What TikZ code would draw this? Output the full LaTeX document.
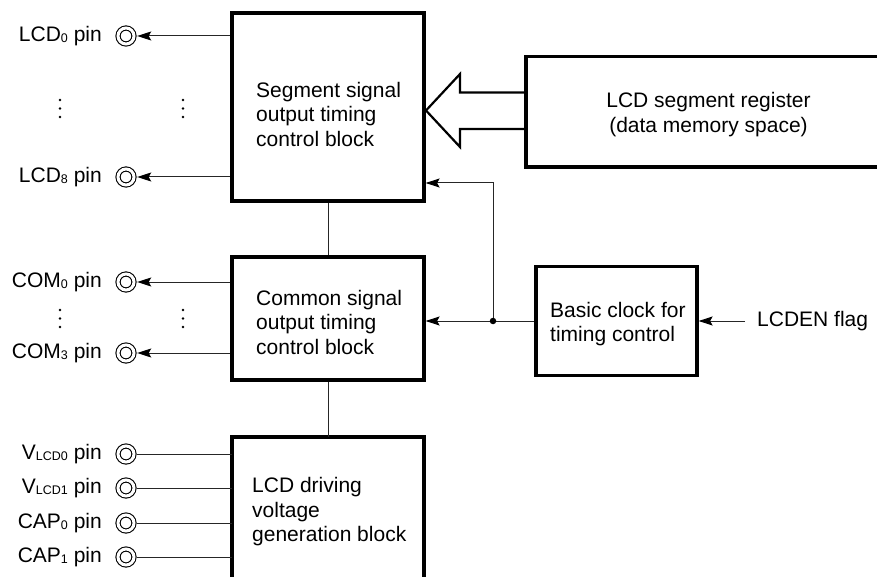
\documentclass[tikz,border=0pt]{standalone}
\usepackage{fontspec}
\setmainfont{Liberation Sans}
\usetikzlibrary{arrows.meta}
\newcommand{\lsub}[1]{\raisebox{-1pt}{\fontsize{12.5}{12.5}\selectfont #1}}
\begin{document}
\begin{tikzpicture}[x=1pt,y=-1pt,
  font=\fontsize{21}{24.5}\selectfont,
  blk/.style={draw=black, line width=3.2pt, fill=white, inner sep=0pt},
  txt/.style={align=left, inner sep=0pt},
  lbl/.style={anchor=east, inner sep=0pt},
  thinln/.style={draw=black!85, line width=1pt},
  arr/.style={thinln, -{Stealth[length=14pt, width=9pt, inset=2.5pt, black]}},
  pinc/.style={circle, draw=black, line width=1.1pt, double=white, double distance=3pt,
               minimum size=16pt, inner sep=0pt, outer sep=3.2pt},
  vdot/.style={circle, fill=black, inner sep=0pt, minimum size=2.8pt}
]
\useasboundingbox (0,0) rectangle (877,577);

% blocks
\node[blk, minimum width=192pt, minimum height=188pt] (seg) at (328,107) {};
\node[blk, minimum width=192pt, minimum height=123pt] (com) at (328,318.5) {};
\node[blk, minimum width=161pt, minimum height=109pt] (clk) at (616.5,321) {};

% open-ended blocks
\draw[line width=3.2pt] (232,579) -- (232,437) -- (424,437) -- (424,579);
\draw[line width=3.2pt] (880,56.5) -- (526,56.5) -- (526,167) -- (880,167);

% block texts
\node[txt, anchor=west] (segt) at (256,114) {Segment signal\\output timing\\control block};
\node[txt, anchor=west] (comt) at (256,322) {Common signal\\output timing\\control block};
\node[txt, anchor=west] (clkt) at (550,324) {Basic clock for\\timing control};
\node[txt, anchor=west] (drv) at (252,512) {LCD driving\\voltage\\generation block};
\node[align=center, inner sep=0pt] (reg) at (708.5,114.5) {LCD segment register\\(data memory space)};

% big data arrow
\draw[line width=2.2pt, line join=miter]
  (526,92.5) -- (460,92.5) -- (460,74) -- (426,110.5) -- (460,147) -- (460,129) -- (526,129);

% inter-block lines
\draw[thinln] (seg.south) -- (com.north);
\draw[thinln] (com.south) -- (328,437);

% clock connections
\coordinate (dot) at (493,321);
\draw[arr] (clk.west) -- (com.east |- clk.west);
\draw[arr] (dot) -- (493,183) -- (seg.east |- 0,183);
\node[vdot, minimum size=6.5pt] at (dot) {};
\node[anchor=west, inner sep=0pt] (en) at (757,321) {LCDEN flag};
\coordinate (enx) at (745,321);
\draw[arr] (enx) -- (clk.east);

% pins with arrows
\node[pinc] (p0) at (126,36) {};
\node[pinc] (p8) at (126,177) {};
\node[pinc] (c0) at (126,282) {};
\node[pinc] (c3) at (126,353) {};
\node[lbl] at (102,36) {LCD\lsub{0} pin};
\node[lbl] at (102,177) {LCD\lsub{8} pin};
\node[lbl] at (102,282) {COM\lsub{0} pin};
\node[lbl] at (102,353) {COM\lsub{3} pin};
\draw[arr] (seg.west |- p0) -- (p0.east);
\draw[arr] (seg.west |- p8) -- (p8.east);
\draw[arr] (com.west |- c0) -- (c0.east);
\draw[arr] (com.west |- c3) -- (c3.east);

% bottom pins
\node[pinc] (v0) at (126,454) {};
\node[pinc] (v1) at (126,488) {};
\node[pinc] (k0) at (126,523) {};
\node[pinc] (k1) at (126,557) {};
\node[lbl] at (102,454) {V\lsub{LCD0} pin};
\node[lbl] at (102,488) {V\lsub{LCD1} pin};
\node[lbl] at (102,523) {CAP\lsub{0} pin};
\node[lbl] at (102,557) {CAP\lsub{1} pin};
\draw[thinln] (v0.east) -- (232,454);
\draw[thinln] (v1.east) -- (232,488);
\draw[thinln] (k0.east) -- (232,523);
\draw[thinln] (k1.east) -- (232,557);

% vertical ellipses
\foreach \x in {60,183}{
  \foreach \y in {100,108.5,117}{ \node[vdot] at (\x,\y) {}; }
  \foreach \y in {310,318.5,327}{ \node[vdot] at (\x,\y) {}; }
}
\end{tikzpicture}
\end{document}
